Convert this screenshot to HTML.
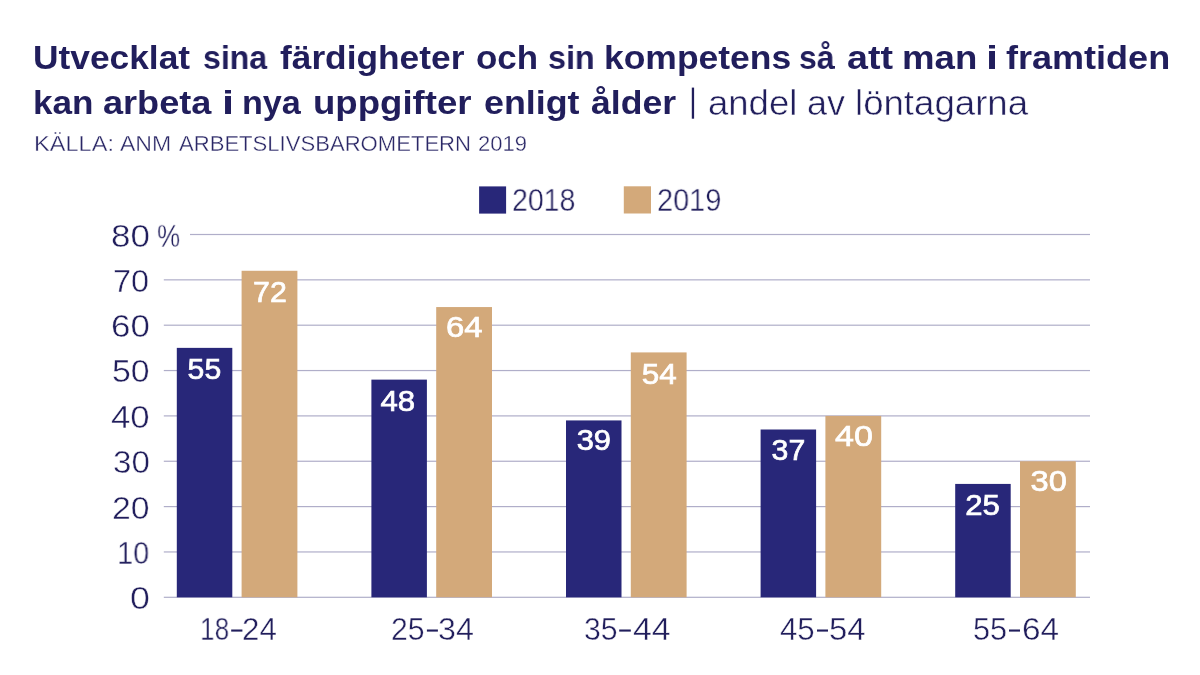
<!DOCTYPE html>
<html><head><meta charset="utf-8">
<style>
html,body{margin:0;padding:0;background:#fff;}
body{width:1200px;height:675px;position:relative;overflow:hidden;font-family:"Liberation Sans",sans-serif;color:#211e5c;}
svg{position:absolute;left:0;top:0;}
.w{position:absolute;white-space:nowrap;line-height:1;transform-origin:0 0;will-change:transform;}
.wt{font-weight:bold;font-size:34px;}
.ws{font-size:35px;-webkit-text-stroke:0.5px #fff;}
.wsrc{font-size:22px;color:#2a2766;-webkit-text-stroke:0.35px #fff;}
.wd{font-size:29.5px;-webkit-text-stroke:0.4px #fff;}
.vb{position:absolute;height:40px;}
.v{position:absolute;left:0;right:0;text-align:center;color:#fff;font-size:29px;-webkit-text-stroke:0.7px #fff;top:6.5px;line-height:1;transform-origin:50% 50%;will-change:transform;}
</style></head><body>
<svg width="1200" height="675" viewBox="0 0 1200 675">
<rect x="163.8" y="596.70" width="926.2" height="1.2" fill="#b0aec9"/>
<rect x="163.8" y="551.35" width="926.2" height="1.2" fill="#b0aec9"/>
<rect x="163.8" y="506.00" width="926.2" height="1.2" fill="#b0aec9"/>
<rect x="163.8" y="460.65" width="926.2" height="1.2" fill="#b0aec9"/>
<rect x="163.8" y="415.30" width="926.2" height="1.2" fill="#b0aec9"/>
<rect x="163.8" y="369.95" width="926.2" height="1.2" fill="#b0aec9"/>
<rect x="163.8" y="324.60" width="926.2" height="1.2" fill="#b0aec9"/>
<rect x="163.8" y="279.25" width="926.2" height="1.2" fill="#b0aec9"/>
<rect x="190" y="233.90" width="900.0" height="1.2" fill="#b0aec9"/>
<rect x="176.80" y="347.87" width="55.5" height="249.43" fill="#282779"/>
<rect x="241.60" y="270.78" width="55.8" height="326.52" fill="#d3a97a"/>
<rect x="371.40" y="379.62" width="55.5" height="217.68" fill="#282779"/>
<rect x="436.20" y="307.06" width="55.8" height="290.24" fill="#d3a97a"/>
<rect x="566.00" y="420.43" width="55.5" height="176.87" fill="#282779"/>
<rect x="630.80" y="352.41" width="55.8" height="244.89" fill="#d3a97a"/>
<rect x="760.60" y="429.50" width="55.5" height="167.80" fill="#282779"/>
<rect x="825.40" y="415.90" width="55.8" height="181.40" fill="#d3a97a"/>
<rect x="955.20" y="483.92" width="55.5" height="113.38" fill="#282779"/>
<rect x="1020.00" y="461.25" width="55.8" height="136.05" fill="#d3a97a"/>
<rect x="479.1" y="186.4" width="27" height="27.2" fill="#282779"/>
<rect x="623.8" y="186.3" width="27.2" height="27.2" fill="#d3a97a"/>
<rect x="231.20" y="629.5" width="11.20" height="2.1" fill="#211e5c"/>
<rect x="426.90" y="629.5" width="11.00" height="2.1" fill="#211e5c"/>
<rect x="619.20" y="629.5" width="11.60" height="2.1" fill="#211e5c"/>
<rect x="817.00" y="629.5" width="11.00" height="2.1" fill="#211e5c"/>
<rect x="1009.00" y="629.5" width="11.00" height="2.1" fill="#211e5c"/>
<rect x="691.8" y="87.6" width="2.3" height="31.1" fill="#211e5c"/>
</svg>
<div class="w wt" style="left:33.42px;top:39.7px;transform:scaleX(1.0387)">Utvecklat</div>
<div class="w wt" style="left:202.57px;top:39.7px;transform:scaleX(0.9440)">sina</div>
<div class="w wt" style="left:279.98px;top:39.7px;transform:scaleX(1.0382)">färdigheter</div>
<div class="w wt" style="left:475.72px;top:39.7px;transform:scaleX(1.0263)">och</div>
<div class="w wt" style="left:548.31px;top:39.7px;transform:scaleX(0.9508)">sin</div>
<div class="w wt" style="left:604.39px;top:39.7px;transform:scaleX(1.0427)">kompetens</div>
<div class="w wt" style="left:799.43px;top:39.7px;transform:scaleX(0.9361)">så</div>
<div class="w wt" style="left:846.89px;top:39.7px;transform:scaleX(1.1056)">att</div>
<div class="w wt" style="left:902.08px;top:39.7px;transform:scaleX(1.0763)">man</div>
<div class="w wt" style="left:985.56px;top:39.7px;transform:scaleX(1.2778)">i</div>
<div class="w wt" style="left:1005.72px;top:39.7px;transform:scaleX(1.0598)">framtiden</div>
<div class="w wt" style="left:32.92px;top:84.65px;transform:scaleX(1.0324)">kan</div>
<div class="w wt" style="left:103.44px;top:84.65px;transform:scaleX(1.0617)">arbeta</div>
<div class="w wt" style="left:222.31px;top:84.65px;transform:scaleX(1.2778)">i</div>
<div class="w wt" style="left:242.24px;top:84.65px;transform:scaleX(1.0044)">nya</div>
<div class="w wt" style="left:313.35px;top:84.65px;transform:scaleX(1.0760)">uppgifter</div>
<div class="w wt" style="left:483.68px;top:84.65px;transform:scaleX(1.0534)">enligt</div>
<div class="w wt" style="left:591.21px;top:84.65px;transform:scaleX(1.0469)">ålder</div>
<div class="w ws" style="left:707.69px;top:84.8px;transform:scaleX(1.0428)">andel</div>
<div class="w ws" style="left:807.21px;top:84.8px;transform:scaleX(1.0284)">av</div>
<div class="w ws" style="left:855.15px;top:84.8px;transform:scaleX(1.0462)">löntagarna</div>
<div class="w wsrc" style="left:34.03px;top:132.75px;transform:scaleX(1.0714)">KÄLLA:</div>
<div class="w wsrc" style="left:120.00px;top:132.75px;transform:scaleX(1.0468)">ANM</div>
<div class="w wsrc" style="left:179.00px;top:132.75px;transform:scaleX(1.0036)">ARBETSLIVSBAROMETERN</div>
<div class="w wsrc" style="left:478.10px;top:132.75px;transform:scaleX(0.9968)">2019</div>
<div class="w wd" style="left:110.72px;top:219.73px;transform:scale(1.1867,1.0681)">80</div>
<div class="w wd" style="left:113.48px;top:265.50px;transform:scale(1.0992,1.0526)">70</div>
<div class="w wd" style="left:110.63px;top:309.84px;transform:scale(1.1832,1.0785)">60</div>
<div class="w wd" style="left:111.78px;top:355.57px;transform:scale(1.1467,1.0474)">50</div>
<div class="w wd" style="left:110.72px;top:401.62px;transform:scale(1.1803,1.0578)">40</div>
<div class="w wd" style="left:112.52px;top:446.62px;transform:scale(1.1233,1.0578)">30</div>
<div class="w wd" style="left:111.89px;top:492.63px;transform:scale(1.1462,1.0319)">20</div>
<div class="w wd" style="left:117.15px;top:537.63px;transform:scale(0.9793,1.0319)">10</div>
<div class="w wd" style="left:129.78px;top:582.69px;transform:scale(1.2145,1.0422)">0</div>
<div class="w wd" style="left:157.49px;top:219.73px;transform:scale(0.8842,1.0681)">%</div>
<div class="w wd" style="left:512.31px;top:184.55px;transform:scale(0.9648,1.0526)">2018</div>
<div class="w wd" style="left:657.29px;top:184.56px;transform:scale(0.9799,1.0370)">2019</div>
<div class="w wd" style="left:200.28px;top:613.60px;transform:scale(0.8870,1.0526)">18</div>
<div class="w wd" style="left:242.25px;top:613.30px;transform:scale(1.0600,1.0658)">24</div>
<div class="w wd" style="left:390.86px;top:613.60px;transform:scale(1.0235,1.0526)">25</div>
<div class="w wd" style="left:438.36px;top:613.60px;transform:scale(1.0926,1.0526)">34</div>
<div class="w wd" style="left:583.57px;top:613.60px;transform:scale(1.0233,1.0526)">35</div>
<div class="w wd" style="left:632.55px;top:612.98px;transform:scale(1.1480,1.0792)">44</div>
<div class="w wd" style="left:779.74px;top:613.03px;transform:scale(1.0590,1.0658)">45</div>
<div class="w wd" style="left:828.63px;top:613.03px;transform:scale(1.1140,1.0658)">54</div>
<div class="w wd" style="left:972.64px;top:613.03px;transform:scale(1.0400,1.0658)">55</div>
<div class="w wd" style="left:1022.22px;top:613.60px;transform:scale(1.1300,1.0526)">64</div>
<div class="vb" style="left:176.8px;width:55.5px;top:347.9px"><div class="v" style="transform:translate(-0.36px,0.60px) scaleX(1.0393)">55</div></div>
<div class="vb" style="left:241.6px;width:55.8px;top:270.8px"><div class="v" style="transform:translate(0.02px,1.20px) scaleX(1.0435)">72</div></div>
<div class="vb" style="left:371.4px;width:55.5px;top:379.6px"><div class="v" style="transform:translate(-0.99px,0.90px) scaleX(1.0747)">48</div></div>
<div class="vb" style="left:436.2px;width:55.8px;top:307.1px"><div class="v" style="transform:translate(0.43px,-0.90px) scaleX(1.1331)">64</div></div>
<div class="vb" style="left:566.0px;width:55.5px;top:420.4px"><div class="v" style="transform:translate(0.10px,-0.73px) scaleX(1.0644)">39</div></div>
<div class="vb" style="left:630.8px;width:55.8px;top:352.4px"><div class="v" style="transform:translate(0.30px,1.10px) scaleX(1.0837)">54</div></div>
<div class="vb" style="left:760.6px;width:55.5px;top:429.5px"><div class="v" style="transform:translate(-0.35px,0.20px) scaleX(1.0433)">37</div></div>
<div class="vb" style="left:825.4px;width:55.8px;top:415.9px"><div class="v" style="transform:translate(1.13px,-0.40px) scaleX(1.1760)">40</div></div>
<div class="vb" style="left:955.2px;width:55.5px;top:483.9px"><div class="v" style="transform:translate(-0.19px,0.70px) scaleX(1.0740)">25</div></div>
<div class="vb" style="left:1020.0px;width:55.8px;top:461.2px"><div class="v" style="transform:translate(0.75px,-0.83px) scaleX(1.1249)">30</div></div>
</body></html>
